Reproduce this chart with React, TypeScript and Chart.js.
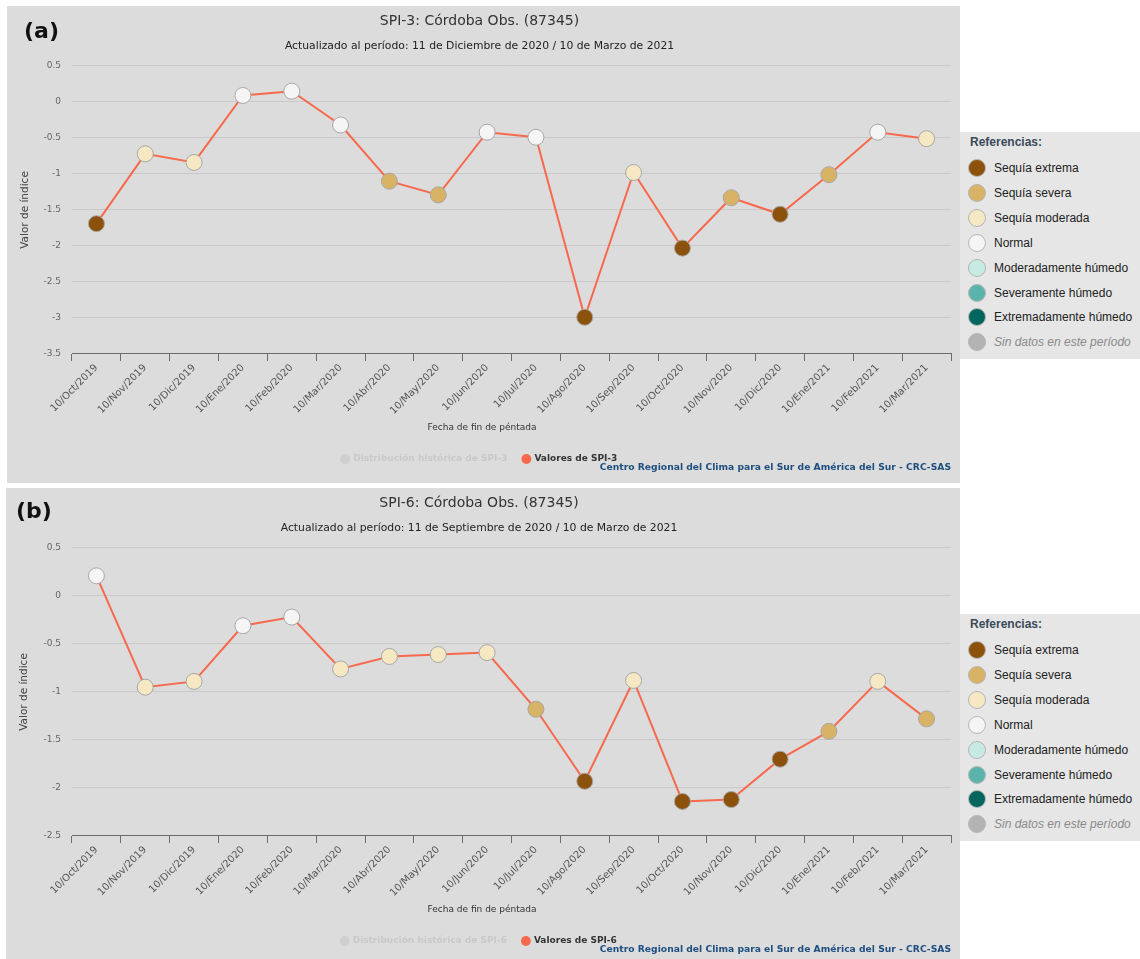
import React, { useEffect, useRef } from "react";
import { Chart, registerables } from "chart.js";

Chart.register(...registerables);

const FONT = "'DejaVu Sans', 'Lucida Grande', sans-serif";
const REF_FONT = "'Liberation Sans', Arial, sans-serif";

const categories = [
  "10/Oct/2019", "10/Nov/2019", "10/Dic/2019", "10/Ene/2020", "10/Feb/2020", "10/Mar/2020",
  "10/Abr/2020", "10/May/2020", "10/Jun/2020", "10/Jul/2020", "10/Ago/2020", "10/Sep/2020",
  "10/Oct/2020", "10/Nov/2020", "10/Dic/2020", "10/Ene/2021", "10/Feb/2021", "10/Mar/2021",
];

// SPI-3 values and drought class (index into referenceLabels)
const spi3Values = [-1.69, -0.72, -0.84, 0.09, 0.15, -0.32, -1.1, -1.29, -0.42, -0.49, -2.99, -0.98, -2.03, -1.33, -1.56, -1.01, -0.42, -0.51];
const spi3Classes = [0, 2, 2, 3, 3, 3, 1, 1, 3, 3, 0, 2, 0, 1, 0, 1, 3, 2];

// SPI-6 values and drought class
const spi6Values = [0.21, -0.95, -0.89, -0.31, -0.22, -0.76, -0.63, -0.61, -0.59, -1.18, -1.93, -0.88, -2.14, -2.12, -1.7, -1.41, -0.89, -1.28];
const spi6Classes = [3, 2, 2, 3, 3, 2, 2, 2, 2, 1, 0, 2, 0, 0, 0, 1, 2, 1];

const referenceLabels = [
  "Sequía extrema", "Sequía severa", "Sequía moderada", "Normal",
  "Moderadamente húmedo", "Severamente húmedo", "Extremadamente húmedo", "Sin datos en este período",
];
const referenceColors = ["#8c510a", "#d8b365", "#f6e8c3", "#f5f5f5", "#c7eae5", "#5ab4ac", "#01665e", "#b3b3b3"];

const spi3Range = [-3.5, 0.5];
const spi6Range = [-2.5, 0.5];
const yStep = 0.5;

const X_TITLE = "Fecha de fin de péntada";
const Y_TITLE = "Valor de índice";
const CREDITS = "Centro Regional del Clima para el Sur de América del Sur - CRC-SAS";

const CANVAS_H = 471;

type PanelProps = {
  tag: string;
  tagLeft: number;
  tagTop: number;
  left: number;
  top: number;
  width: number;
  boxHeight: number;
  title: string;
  subtitle: string;
  values: number[];
  classes: number[];
  range: number[];
  seriesName: string;
  histName: string;
};

function ReferenceBox({ top }: { top: number }) {
  return (
    <div
      style={{
        position: "absolute",
        left: 960,
        top,
        width: 180,
        height: 227,
        background: "#e6e6e6",
        fontFamily: REF_FONT,
      }}
    >
      <div style={{ position: "absolute", left: 10, top: 3, fontSize: 12, fontWeight: "bold", color: "#3b4a5a" }}>
        Referencias:
      </div>
      {referenceLabels.map((lab, i) => (
        <div key={lab} style={{ position: "absolute", left: 8, top: 26 + i * 24.9, height: 20, display: "flex", alignItems: "center" }}>
          <div
            style={{
              width: 18,
              height: 18,
              borderRadius: "50%",
              background: referenceColors[i],
              border: "1px solid #b5b5b5",
              boxSizing: "border-box",
            }}
          />
          <span
            style={{
              marginLeft: 8,
              fontSize: 12,
              color: i === 7 ? "#8a8a8a" : "#222",
              fontStyle: i === 7 ? "italic" : "normal",
              whiteSpace: "nowrap",
            }}
          >
            {lab}
          </span>
        </div>
      ))}
    </div>
  );
}

function SpiPanel(p: PanelProps) {
  const ref = useRef<HTMLCanvasElement>(null);
  const yAxisWidth = 72 - p.left;

  useEffect(() => {
    const textPlugin = {
      id: "panelTexts",
      afterDraw(chart: any) {
        const ctx = chart.ctx;
        ctx.save();
        // x-axis title
        ctx.font = `9px ${FONT}`;
        ctx.fillStyle = "#333333";
        ctx.textAlign = "center";
        ctx.textBaseline = "middle";
        ctx.fillText(X_TITLE, 482 - p.left, 422);
        // credits
        ctx.font = `bold 9.2px ${FONT}`;
        ctx.fillStyle = "#1d4f80";
        ctx.textAlign = "right";
        ctx.fillText(CREDITS, chart.width - 9, 462);
        ctx.restore();
      },
    };

    const chart = new Chart(ref.current as HTMLCanvasElement, {
      type: "line",
      data: {
        labels: categories,
        datasets: [
          {
            label: p.seriesName,
            data: p.values,
            borderColor: "#f7694c",
            borderWidth: 2,
            tension: 0,
            pointRadius: 8,
            pointHoverRadius: 8,
            pointBackgroundColor: p.classes.map((c) => referenceColors[c]),
            pointBorderColor: "#a6a6a6",
            pointBorderWidth: 1,
          },
        ],
      },
      options: {
        responsive: false,
        animation: false,
        layout: { padding: { left: 0, right: 8, top: 0, bottom: 3.5 } },
        plugins: {
          title: {
            display: true,
            text: p.title,
            color: "#333333",
            font: { family: FONT, size: 14, weight: "normal" },
            padding: { top: 6.6, bottom: 0 },
          },
          subtitle: {
            display: true,
            text: p.subtitle,
            color: "#222222",
            font: { family: FONT, size: 10.8, weight: "normal" },
            padding: { top: 10.1, bottom: 13.5 },
          },
          legend: {
            position: "bottom",
            onClick: () => {},
            labels: {
              usePointStyle: true,
              boxWidth: 7,
              boxHeight: 7,
              padding: 15.5,
              font: { family: FONT, size: 9, weight: "bold" },
              generateLabels: () => [
                {
                  text: p.histName,
                  fillStyle: "#cfcfcf",
                  strokeStyle: "#cfcfcf",
                  lineWidth: 0,
                  pointStyle: "circle",
                  hidden: false,
                  fontColor: "#c9c9c9",
                  datasetIndex: 1,
                } as any,
                {
                  text: p.seriesName,
                  fillStyle: "#f7694c",
                  strokeStyle: "#f7694c",
                  lineWidth: 0,
                  pointStyle: "circle",
                  hidden: false,
                  fontColor: "#333333",
                  datasetIndex: 0,
                } as any,
              ],
            },
          },
          tooltip: { enabled: false },
        },
        scales: {
          x: {
            offset: true,
            grid: { offset: true, drawOnChartArea: false, drawTicks: true, tickLength: 7, color: "#6b6b6b" },
            border: { display: true, color: "#6b6b6b" },
            ticks: {
              autoSkip: false,
              minRotation: 45,
              maxRotation: 45,
              color: "#555555",
              padding: 1,
              font: { family: FONT, size: 10 },
            },
            title: { display: false },
            afterFit: (s: any) => {
              s.height = 85;
            },
          },
          y: {
            min: p.range[0],
            max: p.range[1],
            ticks: {
              stepSize: yStep,
              color: "#666666",
              padding: 11,
              font: { family: FONT, size: 9 },
              callback: (v: any) => String(Math.round(Number(v) * 10) / 10),
            },
            grid: { color: "#c9c9c9", drawTicks: false },
            border: { display: false },
            title: {
              display: true,
              text: Y_TITLE,
              color: "#444444",
              font: { family: FONT, size: 10.5 },
              padding: { top: 12, bottom: 0 },
            },
            afterFit: (s: any) => {
              s.width = yAxisWidth;
            },
          },
        },
      } as any,
      plugins: [textPlugin],
    });
    return () => chart.destroy();
  }, []);

  return (
    <>
      <div
        style={{
          position: "absolute",
          left: p.left,
          top: p.top,
          width: p.width,
          height: p.boxHeight,
          background: "#dcdcdc",
        }}
      >
        <canvas ref={ref} width={p.width} height={CANVAS_H} style={{ display: "block" }} />
      </div>
      <div
        style={{
          position: "absolute",
          left: p.tagLeft,
          top: p.tagTop,
          fontFamily: FONT,
          fontWeight: "bold",
          fontSize: 22,
          lineHeight: 1,
          color: "#111",
        }}
      >
        {p.tag}
      </div>
      <ReferenceBox top={p.top + 126} />
    </>
  );
}

export default function App() {
  return (
    <div style={{ position: "absolute", left: 0, top: 0, width: 1140, height: 959, background: "#ffffff", overflow: "hidden" }}>
      <SpiPanel
        tag="(a)"
        tagLeft={24}
        tagTop={20}
        left={7}
        top={6}
        width={953}
        boxHeight={477}
        title="SPI-3: Córdoba Obs. (87345)"
        subtitle="Actualizado al período: 11 de Diciembre de 2020 / 10 de Marzo de 2021"
        values={spi3Values}
        classes={spi3Classes}
        range={spi3Range}
        seriesName="Valores de SPI-3"
        histName="Distribución histórica de SPI-3"
      />
      <SpiPanel
        tag="(b)"
        tagLeft={16}
        tagTop={500}
        left={6}
        top={488}
        width={954}
        boxHeight={471}
        title="SPI-6: Córdoba Obs. (87345)"
        subtitle="Actualizado al período: 11 de Septiembre de 2020 / 10 de Marzo de 2021"
        values={spi6Values}
        classes={spi6Classes}
        range={spi6Range}
        seriesName="Valores de SPI-6"
        histName="Distribución histórica de SPI-6"
      />
    </div>
  );
}
